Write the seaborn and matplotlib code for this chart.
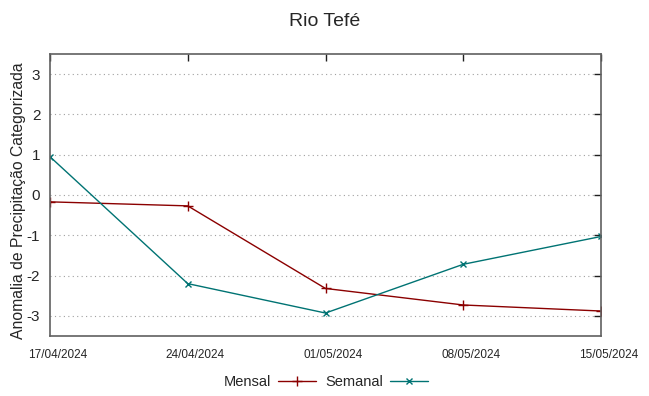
import pandas as pd
import matplotlib.pyplot as plt
import matplotlib.transforms as mtransforms
import seaborn as sns

# Data
dates = ["2024-04-17", "2024-04-24", "2024-05-01", "2024-05-08", "2024-05-15"]
tick_labels = ["17/04/2024", "24/04/2024", "01/05/2024", "08/05/2024", "15/05/2024"]
mensal = [-0.17, -0.27, -2.32, -2.73, -2.88]
semanal = [0.95, -2.20, -2.93, -1.72, -1.03]

dates = pd.to_datetime(dates)
data = pd.concat([
    pd.DataFrame({"data": dates, "valor": mensal, "serie": "Mensal"}),
    pd.DataFrame({"data": dates, "valor": semanal, "serie": "Semanal"}),
])

sns.set_style("white")
plt.rcParams["font.family"] = ["Liberation Sans", "DejaVu Sans"]

fig = plt.figure(figsize=(6.49, 3.96), dpi=100)
ax = fig.add_axes([50 / 649, 1 - 336 / 396, 551 / 649, 282 / 396])

palette = {"Mensal": "#8b0000", "Semanal": "#007373"}
markers = {"Mensal": "+", "Semanal": "x"}
for serie, grp in data.groupby("serie"):
    sns.lineplot(data=grp, x="data", y="valor", color=palette[serie],
                 marker=markers[serie], markeredgecolor=palette[serie],
                 linewidth=1, markersize=7 if serie == "Mensal" else 5,
                 markeredgewidth=1, ax=ax, legend=False)

ax.set_xlim(dates[0], dates[-1])
ax.set_ylim(-3.5, 3.5)
ax.set_xticks(dates)
ax.set_xticklabels(tick_labels, fontsize=8.5)
ax.set_yticks([-3, -2, -1, 0, 1, 2, 3])
ax.set_yticklabels(["-3", "-2", "-1", "0", "1", "2", "3"], fontsize=11)
ax.tick_params(direction="in", length=5, width=1, color="#202020",
               top=True, right=True, pad=9)
ax.tick_params(axis="y", pad=7)
# gnuplot-style offset for the date labels
offset = mtransforms.ScaledTranslation(7.5 / 100, 0, fig.dpi_scale_trans)
for lbl in ax.get_xticklabels():
    lbl.set_transform(lbl.get_transform() + offset)

ax.yaxis.grid(True, linestyle=(0, (1, 3)), color="#a0a0a0", linewidth=0.8)
ax.xaxis.grid(False)
for s in ax.spines.values():
    s.set_color("#606060")
    s.set_linewidth(1.2)

ax.set_xlabel("")
ax.set_ylabel("Anomalia de Precipitação Categorizada", fontsize=11.3, labelpad=3)
ax.yaxis.set_label_coords(-0.044, 0.48)
fig.suptitle("Rio Tefé", fontsize=14, y=0.967)

handles = [
    plt.Line2D([], [], color=palette["Mensal"], marker="+", linewidth=1, markersize=7),
    plt.Line2D([], [], color=palette["Semanal"], marker="x", linewidth=1, markersize=5),
]
fig.legend(handles, ["Mensal", "Semanal"], loc="center", bbox_to_anchor=(0.502, 0.035),
           ncol=2, frameon=False, markerfirst=False, fontsize=10.5,
           handlelength=2.6, columnspacing=0.6, handletextpad=0.5)

fig.savefig("out.png", dpi=100)
